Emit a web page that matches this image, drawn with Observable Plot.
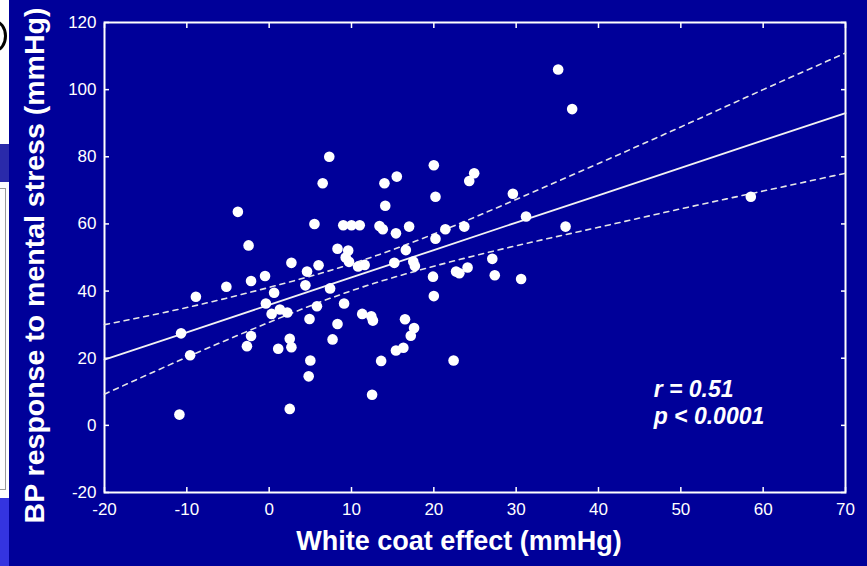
<!DOCTYPE html>
<html>
<head>
<meta charset="utf-8">
<script src="https://cdn.jsdelivr.net/npm/d3@7"></script>
<script src="https://cdn.jsdelivr.net/npm/@observablehq/plot@0.6"></script>
<style>
  html, body { margin: 0; padding: 0; background: #000099; }
  #wrap { position: relative; width: 867px; height: 566px; overflow: hidden; background: #000099; }
  #strip { position: absolute; left: 0; top: 0; width: 9px; height: 566px; overflow: hidden; }
  #strip div { position: absolute; left: 0; width: 9px; }
</style>
</head>
<body>
<div id="wrap">
  <div id="chart"></div>
  <div id="strip">
    <div style="top:0;height:144px;background:#ffffff"></div>
    <div style="top:20px;left:-17px;width:18px;height:26px;border:3px solid #000;border-radius:50%;"></div>
    <div style="top:144px;height:38px;background:#2a2aaa"></div>
    <div style="top:182px;height:316px;background:#ffffff"></div>
    <div style="top:188px;height:302px;width:6px;border:1px solid #9a9a9a;border-left:none;box-sizing:border-box;left:0"></div>
    <div style="top:498px;height:68px;background:#3434e0"></div>
  </div>
</div>
<script>
// White coat effect (x, mmHg) against BP response to mental stress (y, mmHg)
const whiteCoat = [
  -10.9, -10.7, -9.6, -8.9, -5.2, -3.8, -2.5, -2.2, -2.2, -2.7,
  -0.5, -0.4, 0.6, 0.3, 1.3, 2.2, 1.1, 2.5, 2.7, 2.5,
  2.7, 4.6, 4.4, 4.9, 5.0, 4.8, 5.5, 5.8, 6.0, 6.5,
  7.3, 7.4, 7.7, 8.3, 8.3, 9.0, 10.0, 11.0, 9.1, 9.6,
  9.3, 9.7, 10.8, 11.6, 11.3, 12.4, 12.6, 12.5, 13.4, 13.8,
  13.6, 14.0, 14.1, 15.5, 15.4, 15.2, 15.4, 16.3, 16.5, 16.6,
  17.0, 17.5, 17.7, 17.2, 17.6, 19.9, 20.0, 20.0, 20.2, 20.2,
  21.4, 22.4, 22.7, 23.1, 24.1, 23.7, 24.3, 24.9, 27.1, 27.4,
  29.6, 30.6, 31.2, 35.1, 36.8, 36.0, 58.5
];
const stressResponse = [
  3.2, 27.4, 20.9, 38.3, 41.3, 63.6, 53.6, 43.0, 26.6, 23.6,
  44.5, 36.3, 39.5, 33.2, 34.5, 33.6, 22.8, 25.8, 23.3, 4.9,
  48.4, 45.8, 41.7, 31.7, 19.3, 14.6, 60.0, 35.5, 47.7, 72.1,
  80.0, 40.8, 25.6, 30.2, 52.6, 59.6, 59.6, 59.6, 36.3, 52.1,
  50.0, 48.7, 47.3, 47.8, 33.2, 32.5, 31.2, 9.1, 59.4, 58.4,
  19.2, 72.1, 65.4, 74.1, 57.2, 48.4, 22.3, 23.1, 31.6, 52.2,
  59.2, 48.8, 47.5, 26.7, 29.0, 44.3, 38.5, 77.5, 68.1, 55.6,
  58.4, 19.3, 45.8, 45.3, 47.0, 59.2, 72.8, 75.1, 49.6, 44.7,
  69.0, 43.6, 62.2, 106.0, 94.2, 59.2, 68.1
];

// Regression line and its 95% confidence limits
const fitX   = [-20, -10, 0, 10, 20, 30, 40, 50, 60, 70];
const fitY   = [19.6, 27.7, 35.9, 44.1, 52.2, 60.4, 68.5, 76.7, 84.9, 93.0];
const upperY = [30.0, 35.1, 41.1, 48.1, 57.0, 67.3, 78.0, 88.9, 100.0, 110.9];
const lowerY = [9.3, 20.3, 30.7, 40.1, 47.4, 53.5, 59.0, 64.5, 69.8, 75.1];

const xTicks = [-20, -10, 0, 10, 20, 30, 40, 50, 60, 70];
const yTicks = [-20, 0, 20, 40, 60, 80, 100, 120];

const statsLines = ["r = 0.51", "p < 0.0001"];
const xTitle = "White coat effect (mmHg)";
const yTitle = "BP response to mental stress (mmHg)";

const points = whiteCoat.map((x, i) => ({x, y: stressResponse[i]}));
const fit = fitX.map((x, i) => ({x, fit: fitY[i], upper: upperY[i], lower: lowerY[i]}));

const ink = "#ffffff";
const font = "'Liberation Sans', Arial, Helvetica, sans-serif";

const chart = Plot.plot({
  width: 867,
  height: 566,
  marginLeft: 104,
  marginRight: 22,
  marginTop: 22,
  marginBottom: 74,
  style: {background: "#000099", color: ink, fontFamily: font},
  x: {domain: [-20, 70]},
  y: {domain: [-20, 120]},
  marks: [
    // labelled axes with inward ticks
    Plot.axisX(xTicks, {anchor: "bottom", tickSize: -5, tickPadding: 15, fontSize: 17,
      tickFormat: d => String(d), label: null, stroke: ink, strokeWidth: 1.5}),
    Plot.axisY(yTicks, {anchor: "left", tickSize: -5, tickPadding: 13, fontSize: 17,
      tickFormat: d => String(d), label: null, stroke: ink, strokeWidth: 1.5}),
    // inward ticks on the opposite sides
    Plot.axisX(xTicks, {anchor: "top", tickSize: -5, tickFormat: () => "", label: null, stroke: ink, strokeWidth: 1.5}),
    Plot.axisY(yTicks, {anchor: "right", tickSize: -5, tickFormat: () => "", label: null, stroke: ink, strokeWidth: 1.5}),
    Plot.frame({stroke: ink, strokeWidth: 2}),
    // confidence limits and fitted line
    Plot.line(fit, {x: "x", y: "upper", curve: "natural", stroke: "#e6e6e6", strokeWidth: 1.6, strokeDasharray: "5,5"}),
    Plot.line(fit, {x: "x", y: "lower", curve: "natural", stroke: "#e6e6e6", strokeWidth: 1.6, strokeDasharray: "5,5"}),
    Plot.line(fit, {x: "x", y: "fit", stroke: "#f2f2f2", strokeWidth: 1.8}),
    // subjects
    Plot.dot(points, {x: "x", y: "y", r: 5.3, fill: ink, stroke: "none"}),
    // correlation statistics
    Plot.text([statsLines.join("\n")], {x: 46.7, y: 14.4, textAnchor: "start", lineAnchor: "top",
      lineHeight: 1.2, fontSize: 23, fontWeight: "bold", fontStyle: "italic", fill: ink}),
    // axis titles
    Plot.text([yTitle], {frameAnchor: "left", textAnchor: "middle", lineAnchor: "middle", rotate: -90,
      dx: -70, dy: 8, fontSize: 28.5, fontWeight: "bold", fill: ink}),
    Plot.text([xTitle], {frameAnchor: "bottom", dx: -16, dy: 57, fontSize: 27, fontWeight: "bold", fill: ink})
  ]
});

document.getElementById("chart").appendChild(chart);
</script>
</body>
</html>
